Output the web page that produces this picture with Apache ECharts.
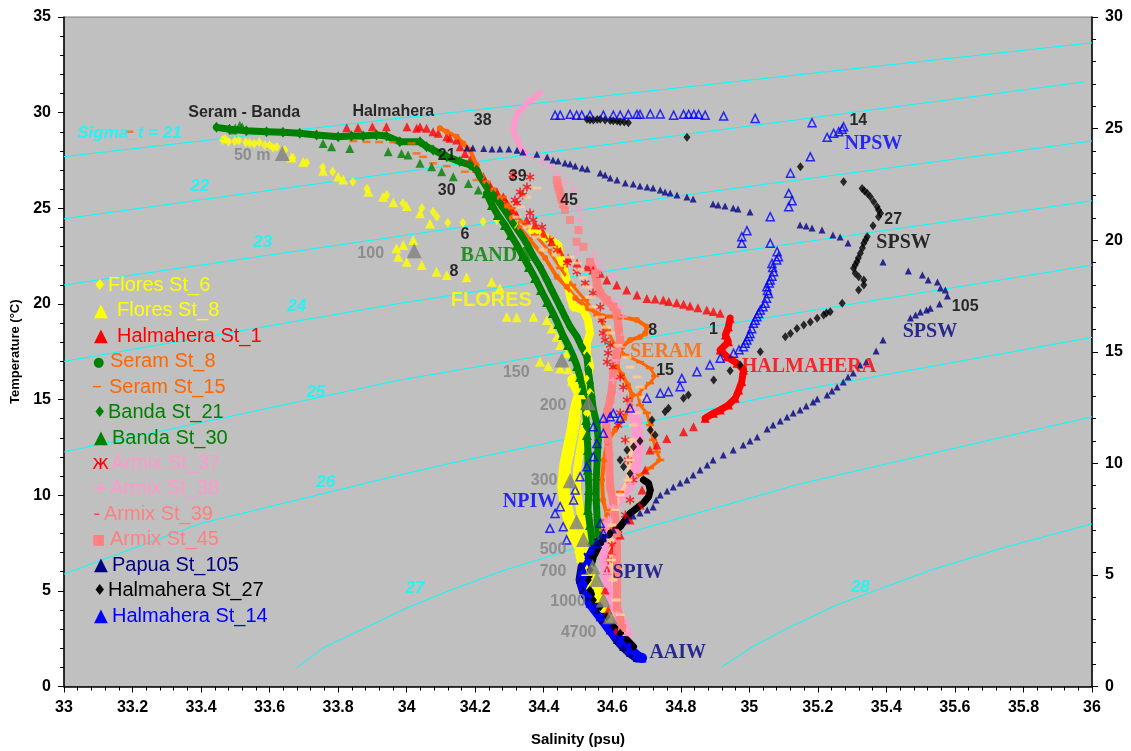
<!DOCTYPE html>
<html>
<head>
<meta charset="utf-8">
<script src="https://cdn.jsdelivr.net/npm/echarts@6/dist/echarts.min.js"></script>
<style>
html,body{margin:0;padding:0;background:#ffffff;}
#chart{width:1131px;height:751px;}
</style>
</head>
<body>
<div id="chart"></div>
<script>
// ---------- Isopycnals (sigma-t), [salinity, temperature] ----------
const sigma21 = [[33,27.7],[34,29.75],[35,31.7],[36,33.65]];
const sigma22 = [[33,24.45],[34.27,27.6],[35,29.3],[35.975,31.6]];
const sigma23 = [[33,20.99],[34.27,24.3],[34.86,25.81],[36,28.52]];
const sigma24 = [[33,17.0],[33.98,20.03],[34.86,22.47],[36,25.39]];
const sigma25 = [[33,12.26],[33.98,16.02],[34.86,18.72],[36,22.03]];
const sigma26 = [[33,5.88],[33.4,8.53],[33.98,11.06],[34.13,11.68],[35.15,15.5],[36,18.25]];
const sigma27 = [[33.68,1.0],[33.76,2.05],[34.0,4.1],[34.13,5.05],[34.28,6.05],[34.56,7.6],[35.15,10.6],[35.73,13.0],[36,14.1]];
const sigma28 = [[34.92,1.03],[35.01,2.08],[35.11,3.04],[35.255,4.26],[35.53,6.09],[35.75,7.3],[36,8.5]];

// ---------- Station profiles, [salinity (psu), temperature (°C)] ----------
const flores6Upper = [[33.463,28.57],[33.47,28.62],[33.48,28.48],[33.498,28.51],[33.51,28.55],[33.53,28.44],[33.542,28.41],[33.555,28.38],[33.57,28.45],[33.586,28.31],[33.60,28.30],[33.61,28.16],[33.621,28.20],[33.645,28.05],[33.668,27.64],[33.708,27.38],[33.755,27.14],[33.784,26.91],[33.843,26.39],[33.884,26.04],[33.942,25.69],[33.989,25.26],[34.044,25.00],[34.077,24.82],[34.088,24.56],[34.120,24.24],[34.164,24.24],[34.223,24.30],[34.263,24.39],[34.316,24.18]];
const flores6Deep = [[34.365,23.86],[34.409,23.44],[34.442,23.08],[34.448,22.47],[34.453,22.14],[34.467,21.25],[34.477,20.38],[34.486,19.85],[34.515,19.68],[34.529,19.16],[34.535,18.48],[34.526,17.96],[34.526,17.43],[34.535,16.72],[34.526,16.02],[34.535,15.34],[34.526,14.30],[34.515,13.25],[34.506,12.36],[34.497,11.32],[34.497,10.27],[34.506,9.23],[34.515,8.18],[34.527,7.13],[34.541,6.09],[34.559,5.04],[34.576,4.26],[34.594,3.74]];

const flores8Upper = [[33.664,27.66],[33.698,27.43],[33.756,26.96],[33.800,26.65],[33.815,26.51],[33.888,25.87],[33.931,25.60],[33.961,25.31],[34.000,25.12],[34.039,24.74],[34.068,24.21],[33.970,22.91],[33.990,23.08],[34.019,23.34],[34.000,22.21],[33.975,22.47],[34.044,22.03],[34.087,21.68],[34.117,21.51],[34.175,21.39],[34.248,21.16],[34.272,20.82],[34.292,19.33],[34.321,19.30],[34.370,19.33],[34.409,19.16],[34.423,18.72],[34.438,18.29],[34.448,17.85],[34.467,17.42],[34.389,16.98],[34.413,16.75],[34.448,16.63],[34.472,16.58]];
const flores8Deep = [[34.486,16.02],[34.506,15.33],[34.491,14.28],[34.486,13.58],[34.482,13.24],[34.472,12.36],[34.462,11.49],[34.457,10.44],[34.462,9.75],[34.472,8.88],[34.486,8.01],[34.506,7.31],[34.511,6.79],[34.526,6.09],[34.540,5.39],[34.555,4.69],[34.574,4.17],[34.589,3.65]];

const hal1Upper = [[33.825,29.21],[33.858,29.21],[33.900,29.26],[33.941,29.26],[34.001,29.26],[34.029,29.18],[34.039,29.26],[34.058,29.18],[34.077,29.00],[34.092,28.92],[34.117,28.74],[34.126,28.66],[34.146,28.57],[34.156,28.22],[34.170,27.87],[34.185,27.52],[34.204,27.09],[34.224,26.65],[34.243,26.21],[34.263,25.86],[34.282,25.60],[34.292,25.26],[34.306,24.91],[34.321,24.65],[34.350,24.39],[34.375,24.13],[34.399,23.69],[34.423,23.25],[34.448,22.73],[34.471,22.40],[34.497,22.14],[34.526,21.94],[34.544,21.77],[34.565,21.60],[34.584,21.25],[34.613,20.99],[34.642,20.73],[34.672,20.47],[34.701,20.29],[34.725,20.26],[34.749,20.20],[34.765,20.13],[34.788,20.06],[34.808,19.98],[34.827,19.89],[34.85,19.80],[34.876,19.68],[34.895,19.60],[34.915,19.51]];
const hal1Wiggle = [[34.944,19.25],[34.939,18.81],[34.930,18.38],[34.939,18.02],[34.915,17.59],[34.935,17.24],[34.964,16.90],[34.983,16.55],[34.978,15.94],[34.969,15.50],[34.959,15.07],[34.939,14.72],[34.915,14.46],[34.895,14.28],[34.871,14.02]];
const hal1Lower = [[34.837,13.58],[34.808,13.32],[34.759,12.97],[34.730,12.62],[34.710,12.36],[34.696,11.32],[34.687,10.27],[34.681,9.49],[34.652,8.70],[34.623,7.92],[34.599,7.13],[34.585,6.09],[34.579,5.04],[34.588,4.00],[34.608,2.95]];

const seram8 = [[34.097,29.19],[34.117,29.00],[34.146,28.74],[34.165,28.39],[34.185,28.05],[34.204,27.26],[34.219,26.65],[34.233,26.31],[34.253,25.95],[34.272,25.54],[34.293,25.12],[34.307,24.49],[34.331,23.97],[34.360,23.34],[34.404,22.40],[34.438,21.42],[34.467,20.90],[34.492,20.31],[34.529,19.78],[34.573,19.36],[34.623,19.33],[34.672,19.16],[34.701,18.81],[34.696,18.46],[34.681,18.27],[34.652,18.11],[34.629,17.75],[34.617,17.22],[34.614,16.70],[34.629,16.28],[34.646,15.76],[34.658,15.24],[34.652,14.71],[34.635,14.03],[34.608,13.41],[34.585,12.78],[34.576,11.84],[34.570,10.80],[34.573,9.75],[34.585,8.97],[34.599,8.18]];

const seram15Upper = [[33.191,29.00],[33.844,28.51],[33.883,28.47],[33.92,28.46],[33.961,28.45],[34.014,28.39],[34.029,27.87],[34.048,27.69],[34.077,27.35],[34.117,27.20],[34.170,26.91],[34.204,26.48],[34.233,26.39]];
const seram15Deep = [[34.281,25.59],[34.307,25.01],[34.337,24.28],[34.375,23.60],[34.413,22.82],[34.448,21.88],[34.483,20.99],[34.521,20.20],[34.556,19.41],[34.585,18.63],[34.608,17.85],[34.638,17.33],[34.681,16.96],[34.710,16.65],[34.725,16.23],[34.710,15.86],[34.690,15.60],[34.675,15.24],[34.681,14.71],[34.701,14.30],[34.710,13.67],[34.719,12.89],[34.730,12.26],[34.740,11.84],[34.710,11.42],[34.681,11.06],[34.652,10.64],[34.623,10.17],[34.602,9.75],[34.588,9.23],[34.579,8.70],[34.573,8.18]];

const banda21 = [[33.445,29.23],[33.483,29.13],[33.532,29.05],[33.591,29.00],[33.639,28.97],[33.688,28.92],[33.737,28.83],[33.800,28.74],[33.839,28.78],[33.873,28.78],[33.912,28.83],[33.941,28.78],[33.980,28.48],[34.039,28.48],[34.058,28.22],[34.077,28.05],[34.117,27.70],[34.155,27.44],[34.185,27.26],[34.204,27.00],[34.214,26.65],[34.233,26.13],[34.253,25.69],[34.272,25.26],[34.292,24.74],[34.311,24.21],[34.331,23.69],[34.350,23.17],[34.370,22.47],[34.389,21.94],[34.409,21.25],[34.423,20.73],[34.448,19.85],[34.462,19.33],[34.477,18.81],[34.497,18.29],[34.511,17.76],[34.526,17.24],[34.530,16.55],[34.535,15.85],[34.540,15.15],[34.545,14.45],[34.555,13.76],[34.559,12.89],[34.556,11.84],[34.553,10.80],[34.553,9.75],[34.556,8.70],[34.559,7.92]];

const banda30Upper = [[33.513,29.34],[33.52,29.25],[33.50,29.20],[33.493,29.09],[33.756,28.39],[33.781,28.22],[33.834,28.13],[33.946,27.96],[33.985,27.87],[34.004,27.78],[34.039,27.35],[34.073,27.17],[34.102,26.91],[34.136,26.65],[34.180,26.30],[34.209,25.95]];
const banda30Deep = [[34.233,25.78],[34.249,25.17],[34.266,24.65],[34.287,24.13],[34.304,23.60],[34.322,23.08],[34.339,22.50],[34.357,21.93],[34.375,21.35],[34.392,20.73],[34.410,20.10],[34.427,19.52],[34.442,18.95],[34.456,18.37],[34.471,17.85],[34.486,17.27],[34.497,16.75],[34.506,16.18],[34.515,15.50],[34.521,14.71],[34.524,13.93],[34.526,13.15],[34.529,12.36],[34.529,11.32],[34.532,10.27],[34.529,9.23],[34.535,8.44],[34.541,7.66]];

const armix37 = [[34.310,26.74],[34.360,26.63],[34.351,26.11],[34.331,25.85],[34.316,25.43],[34.339,25.69],[34.322,25.27],[34.360,24.75],[34.369,24.39],[34.395,24.02],[34.418,23.34],[34.439,22.82],[34.468,22.14],[34.497,21.67],[34.521,21.09],[34.544,20.57],[34.565,19.84],[34.570,19.16],[34.573,18.48],[34.579,18.11],[34.594,17.85],[34.588,17.43],[34.585,16.96],[34.602,16.70],[34.623,16.18],[34.632,15.65],[34.643,14.98],[34.623,14.30],[34.617,13.67],[34.638,12.89],[34.646,11.84],[34.661,10.80],[34.652,9.75],[34.638,8.97],[34.617,8.18],[34.599,7.40],[34.588,6.61]];

const armix38Top = [[34.389,31.02],[34.378,30.86],[34.366,30.70],[34.354,30.54],[34.343,30.33],[34.331,30.13],[34.322,29.87],[34.316,29.61],[34.313,29.35],[34.310,29.09],[34.313,28.88],[34.321,28.66],[34.325,28.46],[34.331,28.22],[34.339,28.05],[34.350,27.87]];
const armix38Mid = [[34.370,27.69],[34.399,27.43],[34.423,27.17],[34.438,26.74],[34.462,26.37],[34.486,25.95],[34.501,24.91],[34.506,24.39],[34.501,23.86],[34.496,22.73],[34.545,22.56],[34.555,22.21],[34.565,21.77],[34.603,21.42],[34.603,20.20],[34.623,19.85],[34.632,19.33],[34.628,18.29],[34.623,17.76],[34.613,17.07],[34.603,16.02],[34.623,15.33],[34.652,14.80]];
const armix38Deep = [[34.662,14.28],[34.672,13.58],[34.676,12.89],[34.672,12.10],[34.667,11.49],[34.652,10.62],[34.623,9.92],[34.603,9.40],[34.589,8.70],[34.584,8.01],[34.579,7.31],[34.579,6.61],[34.584,5.92],[34.589,5.22],[34.599,4.52],[34.613,3.83],[34.628,3.30],[34.637,2.95],[34.643,2.69]];

const armix39Upper = [[34.380,26.06],[34.351,25.59],[34.331,25.07],[34.322,24.54],[34.351,24.02],[34.380,23.50],[34.398,22.82],[34.436,22.56],[34.477,22.45],[34.497,22.14],[34.506,21.77],[34.515,21.35],[34.527,20.88],[34.535,20.36],[34.544,19.84],[34.565,19.31],[34.585,18.79],[34.594,18.48],[34.617,17.85],[34.643,17.22],[34.652,16.70],[34.672,16.18],[34.681,15.65],[34.690,15.13],[34.672,14.30],[34.661,13.67]];
const armix39Deep = [[34.658,12.89],[34.652,11.84],[34.646,10.80],[34.623,10.01],[34.608,9.23],[34.599,8.44],[34.594,7.66],[34.597,6.61],[34.602,5.57],[34.611,4.52],[34.623,3.74],[34.632,2.95]];

const armix45Upper = [[34.438,26.48],[34.44,26.30],[34.442,26.11],[34.445,25.95],[34.448,25.78],[34.45,25.60],[34.453,25.43],[34.457,25.20],[34.462,24.91],[34.477,24.39],[34.501,23.86],[34.496,23.25],[34.516,22.99]];
const armix45Deep = [[34.535,22.19],[34.550,21.60],[34.555,21.08],[34.565,20.55],[34.584,20.20],[34.603,19.85],[34.613,19.51],[34.618,18.81],[34.623,18.11],[34.611,17.33],[34.603,16.37],[34.599,15.50],[34.594,14.98],[34.585,14.35],[34.582,13.67],[34.588,12.89],[34.591,12.10],[34.591,11.47],[34.594,10.43],[34.602,9.75],[34.608,8.97],[34.613,8.02],[34.614,7.13],[34.614,6.25],[34.614,5.20],[34.614,4.16],[34.623,3.48],[34.629,3.06]];

const papua105Upper = [[34.176,28.15],[34.193,28.15],[34.225,28.12],[34.249,28.10],[34.272,28.10],[34.298,28.10],[34.322,28.04],[34.339,27.94],[34.380,27.83],[34.410,27.68],[34.427,27.52],[34.442,27.47],[34.462,27.37],[34.477,27.31],[34.492,27.21],[34.512,27.11],[34.527,27.06],[34.565,26.84],[34.579,26.74],[34.594,26.58],[34.614,26.48],[34.638,26.32],[34.661,26.27],[34.681,26.16],[34.702,26.11],[34.719,26.06],[34.740,25.95],[34.754,25.85],[34.769,25.80],[34.789,25.69],[34.818,25.59],[34.836,25.48],[34.894,25.22],[34.909,25.17],[34.929,25.12],[34.953,25.01],[34.967,24.96],[35.002,24.80],[35.148,24.12],[35.166,24.07],[35.183,23.97],[35.212,23.86],[35.244,23.60],[35.265,23.50],[35.288,23.18],[35.390,22.19],[35.464,21.72],[35.505,21.51],[35.522,21.25],[35.549,21.15],[35.558,20.83],[35.572,20.73],[35.578,20.41],[35.555,19.99],[35.528,19.78],[35.517,19.68],[35.499,19.58],[35.485,19.42],[35.470,19.26],[35.390,18.11],[35.370,17.54],[35.341,16.96],[35.323,16.81],[35.303,16.39],[35.288,16.18],[35.274,15.92],[35.256,15.66],[35.241,15.45],[35.227,15.24],[35.198,15.03],[35.186,14.87],[35.166,14.66],[35.148,14.45],[35.128,14.30],[35.110,14.09],[35.090,13.88],[35.069,13.67],[35.052,13.46],[35.023,13.04],[35.002,12.83],[34.982,12.62],[34.953,12.36],[34.924,12.10],[34.894,11.84],[34.877,11.58],[34.856,11.32],[34.836,11.06],[34.818,10.80],[34.798,10.64],[34.778,10.43],[34.760,10.22],[34.740,10.01],[34.728,9.75],[34.719,9.38],[34.702,9.23],[34.681,9.07],[34.661,8.91],[34.643,8.70],[34.623,8.44],[34.603,8.18],[34.588,7.97]];
const papua105Deep = [[34.573,7.82],[34.550,7.40],[34.530,6.87],[34.512,6.25],[34.506,5.57],[34.515,5.04],[34.527,4.68],[34.541,4.31],[34.556,4.00],[34.573,3.48],[34.594,2.95],[34.614,2.43],[34.632,2.07],[34.652,1.75],[34.672,1.49]];

const hal27Upper = [[34.526,29.65],[34.535,29.61],[34.545,29.61],[34.556,29.64],[34.565,29.65],[34.579,29.61],[34.594,29.59],[34.603,29.58],[34.614,29.56],[34.623,29.52],[34.635,29.51],[34.647,29.47],[34.818,28.71],[35.149,27.17],[35.275,26.39],[35.329,26.04],[35.336,25.90],[35.344,25.78],[35.353,25.60],[35.363,25.34],[35.373,25.08],[35.377,24.91],[35.383,24.74],[35.377,24.56],[35.361,24.09],[35.344,23.51],[35.339,23.34],[35.334,23.17],[35.330,22.92],[35.324,22.65],[35.318,22.40],[35.314,22.21],[35.309,22.03],[35.304,21.86],[35.309,21.60],[35.319,21.42],[35.334,21.25],[35.334,20.99],[35.319,20.73],[35.271,20.03],[35.236,19.59],[35.225,19.52],[35.217,19.42],[35.198,19.25],[35.178,19.05],[35.159,18.90],[35.139,18.72],[35.120,18.46],[35.105,18.29],[35.032,17.50],[34.973,16.81],[34.944,16.51],[34.896,16.02],[34.822,15.24],[34.808,15.07],[34.764,14.54],[34.754,14.36],[34.716,13.93],[34.711,13.41],[34.725,13.15],[34.681,12.83],[34.662,12.54],[34.643,12.36],[34.623,11.84],[34.633,11.49],[34.652,11.14]];
const hal27Deep = [[34.691,10.80],[34.706,10.62],[34.711,10.27],[34.706,9.92],[34.691,9.59],[34.672,9.33],[34.652,9.05],[34.623,8.35],[34.594,8.01],[34.565,7.49],[34.545,6.79],[34.535,6.09],[34.530,5.57],[34.535,5.04],[34.545,4.52],[34.565,4.17],[34.584,3.65],[34.603,3.13],[34.623,2.78],[34.643,2.43],[34.662,2.08]];

const hal14Upper = [[34.433,29.87],[34.448,29.87],[34.477,29.91],[34.496,29.87],[34.511,29.87],[34.535,29.87],[34.574,29.87],[34.603,29.87],[34.623,29.87],[34.647,29.91],[34.672,29.91],[34.681,29.91],[34.711,29.93],[34.740,29.93],[34.779,29.87],[34.808,29.91],[34.823,29.91],[34.838,29.91],[34.852,29.91],[34.871,29.87],[34.925,29.82],[35.017,29.70],[35.183,29.47],[35.227,28.71],[35.246,28.92],[35.261,29.00],[35.271,29.13],[35.275,29.26],[35.178,27.69],[35.120,26.83],[35.115,25.78],[35.125,25.39],[35.115,25.08],[35.061,24.56],[34.993,23.83],[34.978,23.51],[34.978,23.17],[35.061,23.17],[35.081,22.73],[35.085,22.47],[35.08,22.30],[35.066,22.12],[35.068,21.90],[35.071,21.68],[35.066,21.45],[35.061,21.25],[35.058,21.10],[35.051,20.90],[35.053,20.70],[35.056,20.55],[35.05,20.30],[35.046,20.03],[35.04,19.85],[35.032,19.68],[35.027,19.50],[35.022,19.33],[35.017,19.15],[35.012,18.99],[35.007,18.70],[35.002,18.46],[34.998,18.30],[34.993,18.11],[34.988,17.95],[34.983,17.76],[34.97,17.60],[34.954,17.42],[34.915,17.16],[34.885,16.81],[34.847,16.46],[34.803,16.11],[34.798,15.67],[34.764,15.41],[34.740,15.33],[34.701,15.07],[34.652,14.56],[34.623,14.02],[34.603,14.28],[34.574,14.02],[34.545,13.58],[34.594,14.10],[34.574,13.24],[34.555,12.71],[34.545,12.01],[34.526,11.49],[34.506,10.97],[34.492,10.27],[34.487,9.75],[34.448,9.40],[34.433,9.05],[34.418,8.27],[34.457,8.35],[34.467,7.66],[34.565,8.53],[34.574,8.01],[34.555,7.49]];
const hal14Deep = [[34.535,7.13],[34.526,6.61],[34.516,6.09],[34.511,5.48],[34.521,4.87],[34.535,4.35],[34.565,3.65],[34.594,2.95],[34.623,2.43],[34.652,1.91],[34.676,1.56],[34.687,1.49]];

// Reference depths along the profiles (m)
const depthMarkers = [[33.637,27.87],[34.022,22.78],[34.453,17.07],[34.530,14.84],[34.477,10.76],[34.496,8.61],[34.516,7.69],[34.543,6.26],[34.555,5.60],[34.574,4.52],[34.594,3.65]];

// ---------- Text annotations, [salinity, temperature, text] ----------
const depthLabels = [[33.549,27.78,'50 m'],[33.895,22.61,'100'],[34.320,16.39,'150'],[34.427,14.66,'200'],[34.401,10.74,'300'],[34.427,7.14,'500'],[34.427,5.99,'700'],[34.471,4.42,'1000'],[34.502,2.80,'4700']];
const stationLabels = [[34.222,29.56,'38'],[34.117,27.78,'21'],[34.117,25.92,'30'],[34.324,26.65,'39'],[34.474,25.40,'45'],[34.170,23.65,'6'],[34.138,21.67,'8'],[34.718,18.60,'8'],[34.754,16.49,'15'],[34.895,18.67,'1'],[35.318,29.58,'14'],[35.420,24.39,'27'],[35.630,19.85,'105']];
const areaLabels = [[33.526,30.02,'Seram - Banda'],[33.961,30.03,'Halmahera']];
const floresLabel = [[34.247,20.20,'FLORES']];
const waterMassLabels = [[34.261,22.52,'BANDA'],[34.757,17.49,'SERAM'],[35.174,16.72,'HALMAHERA'],[35.362,28.39,'NPSW'],[35.450,23.17,'SPSW'],[35.527,18.52,'SPSW'],[34.360,9.66,'NPIW'],[34.675,5.93,'SPIW'],[34.791,1.77,'AAIW']];
const waterMassColors = ['#008000','#FF6600','#FF0000','#0000FF','#000000','#000080','#0000FF','#000080','#000080'];
const sigmaLabels = [[33.191,28.94,'Sigma_t = 21'],[33.396,26.16,'22'],[33.580,23.24,'23'],[33.679,19.89,'24'],[33.735,15.39,'25'],[33.764,10.69,'26'],[34.024,5.15,'27'],[35.324,5.20,'28']];

// ---------- Legend entries ----------
const legendNames = ['Flores St_6','Flores St_8','Halmahera St_1','Seram St_8','Seram St_15','Banda St_21','Banda St_30','Armix St_37','Armix St_38','Armix St_39','Armix St_45','Papua St_105','Halmahera St_27','Halmahera St_14'];
const legendGlyphs = ['♦','▲','▲','●','–','♦','▲','ж','+','-','■','▲','♦','▲'];

// ---------- Styling ----------
const SANS = 'Liberation Sans';
const SERIF = 'Liberation Serif';
const C = {
  yellow:'#FFFF00', red:'#FF0000', orange:'#FF6600', green:'#008000', pink:'#FF99CC',
  salmon:'#FF8080', peach:'#FFCC99', navy:'#000080', black:'#000000', blue:'#0000FF', grey:'#808080', cyan:'#00FFFF'
};
const ASTERISK = 'path://M4.2,0h1.6v3.6l3.1,-1.8l0.8,1.4l-3.1,1.8l3.1,1.8l-0.8,1.4l-3.1,-1.8V10h-1.6V6.4l-3.1,1.8l-0.8,-1.4l3.1,-1.8l-3.1,-1.8l0.8,-1.4l3.1,1.8z';
const PLUS = 'path://M4,0h2v4h4v2h-4v4h-2v-4h-4v-2h4z';
const legendStyle = {
  'Flores St_6':    {icon:C.yellow, text:C.yellow, iconX:93, textX:108, iconSize:15},
  'Flores St_8':    {icon:C.yellow, text:C.yellow, iconX:94, textX:117, iconSize:18},
  'Halmahera St_1': {icon:C.red,    text:C.red,    iconX:94, textX:117, iconSize:18},
  'Seram St_8':     {icon:C.green,  text:C.orange, iconX:93, textX:110, iconSize:13},
  'Seram St_15':    {icon:C.orange, text:C.orange, iconX:92, textX:109, iconSize:20},
  'Banda St_21':    {icon:C.green,  text:C.green,  iconX:93, textX:108, iconSize:15},
  'Banda St_30':    {icon:C.green,  text:C.green,  iconX:94, textX:112, iconSize:18},
  'Armix St_37':    {icon:C.red,    text:C.pink,   iconX:92, textX:111, iconSize:19},
  'Armix St_38':    {icon:C.pink,   text:C.pink,   iconX:92, textX:110, iconSize:20},
  'Armix St_39':    {icon:'#FF5050',text:C.salmon, iconX:93, textX:104, iconSize:20},
  'Armix St_45':    {icon:C.salmon, text:C.salmon, iconX:92, textX:110, iconSize:14},
  'Papua St_105':   {icon:C.navy,   text:C.navy,   iconX:94, textX:112, iconSize:18},
  'Halmahera St_27':{icon:C.black,  text:C.black,  iconX:93, textX:108, iconSize:15},
  'Halmahera St_14':{icon:C.blue,   text:C.blue,   iconX:94, textX:112, iconSize:18}
};

function dots(name, data, symbol, size, itemStyle) {
  return {name, type:'scatter', data, symbol, symbolSize:size, itemStyle, silent:true, z:2};
}
function band(name, data, symbol, size, color, width, itemStyle) {
  return {name, type:'line', data, symbol, symbolSize:size, showSymbol:true, showAllSymbol:true,
    lineStyle:{color, width, cap:'round', join:'round'}, itemStyle: itemStyle || {color}, silent:true, z:2};
}
function iso(data) {
  return {type:'line', data, symbol:'none', lineStyle:{color:C.cyan, width:1}, silent:true, z:1};
}
function texts(rows, labelStyle, colors) {
  return {type:'scatter', symbolSize:1, itemStyle:{color:'rgba(0,0,0,0)'}, silent:true, z:6,
    data: rows.map((r, i) => {
      const item = {value:[r[0], r[1]], name:r[2]};
      if (colors) item.label = {color: colors[i]};
      return item;
    }),
    label: Object.assign({show:true, position:'inside', formatter: p => p.name}, labelStyle)};
}

const hollowBlue = {color:'rgba(0,0,0,0)', borderColor:C.blue, borderWidth:1.5};

const series = [
  iso(sigma21), iso(sigma22), iso(sigma23), iso(sigma24), iso(sigma25), iso(sigma26), iso(sigma27), iso(sigma28),

  dots('Flores St_6', flores6Upper, 'diamond', [7,10], {color:C.yellow}),
  band('Flores St_6', flores6Deep, 'diamond', [8,11], C.yellow, 8),
  dots('Flores St_8', flores8Upper, 'triangle', 10, {color:C.yellow}),
  band('Flores St_8', flores8Deep, 'triangle', 12, C.yellow, 12),

  dots('Halmahera St_1', hal1Upper, 'triangle', 9, {color:C.red}),
  band('Halmahera St_1', hal1Wiggle, 'triangle', 9, C.red, 7),
  dots('Halmahera St_1', hal1Lower, 'triangle', 9, {color:C.red}),

  band('Seram St_8', seram8, 'circle', 6, C.orange, 4),
  dots('Seram St_15', seram15Upper, 'rect', [8,2.5], {color:C.orange}),
  band('Seram St_15', seram15Deep, 'rect', [8,2.5], C.orange, 3),

  band('Banda St_21', banda21, 'diamond', [8,11], C.green, 7),
  dots('Banda St_30', banda30Upper, 'triangle', 9, {color:C.green}),
  band('Banda St_30', banda30Deep, 'triangle', 10, C.green, 7),

  dots('Armix St_37', armix37, ASTERISK, 9, {color:C.red}),
  band('Armix St_38', armix38Top, PLUS, 8, C.pink, 5),
  dots('Armix St_38', armix38Mid, PLUS, 9, {color:C.pink}),
  band('Armix St_38', armix38Deep, PLUS, 9, C.pink, 11),
  dots('Armix St_39', armix39Upper, 'rect', [9,3], {color:C.peach}),
  band('Armix St_39', armix39Deep, 'rect', [9,3], C.peach, 4),
  dots('Armix St_45', armix45Upper, 'rect', 8, {color:C.salmon}),
  band('Armix St_45', armix45Deep, 'rect', 8, C.salmon, 8),

  dots('Papua St_105', papua105Upper, 'triangle', 7, {color:C.navy}),
  band('Papua St_105', papua105Deep, 'triangle', 8, C.navy, 9),
  dots('Halmahera St_27', hal27Upper, 'diamond', [7,9], {color:C.black}),
  band('Halmahera St_27', hal27Deep, 'diamond', [7,9], C.black, 7),
  dots('Halmahera St_14', hal14Upper, 'triangle', 8, hollowBlue),
  band('Halmahera St_14', hal14Deep, 'triangle', 9, C.blue, 10),

  Object.assign(dots('Depth', depthMarkers, 'triangle', 15, {color:C.grey}), {z:4}),

  texts(depthLabels, {color:C.grey, fontFamily:SANS, fontWeight:'bold', fontSize:16}),
  texts(stationLabels, {color:C.black, fontFamily:SANS, fontWeight:'bold', fontSize:16}),
  texts(areaLabels, {color:C.black, fontFamily:SANS, fontWeight:'bold', fontSize:16}),
  texts(floresLabel, {color:C.yellow, fontFamily:SANS, fontWeight:'bold', fontSize:20}),
  texts(waterMassLabels, {fontFamily:SERIF, fontWeight:'bold', fontSize:20}, waterMassColors),
  texts(sigmaLabels, {color:C.cyan, fontFamily:SANS, fontWeight:'bold', fontStyle:'italic', fontSize:17})
];

// Legend drawn as text rows at the left of the plot
const legendTop = 287.3, legendStep = 25.46;
const graphic = [];
legendNames.forEach((name, i) => {
  const st = legendStyle[name];
  const y = legendTop + i * legendStep;
  graphic.push({type:'text', left:st.iconX, top:y - st.iconSize * 0.6, z:20, silent:true,
    style:{text:legendGlyphs[i], fill:st.icon, font:'normal ' + st.iconSize + 'px "DejaVu Sans"'}});
  graphic.push({type:'text', left:st.textX, top:y - 12, z:20, silent:true,
    style:{text:name, fill:st.text, font:'normal 20px "' + SANS + '"'}});
});

const axisText = {fontFamily:SANS, fontWeight:'bold', fontSize:16, color:'#000'};

const option = {
  animation:false,
  backgroundColor:'#ffffff',
  textStyle:{fontFamily:SANS},
  grid:{left:64, right:39, top:17, bottom:64.5, show:true, backgroundColor:'#C0C0C0', borderColor:'#808080', borderWidth:1,
        containLabel:false, outerBoundsMode:'none'},
  xAxis:{
    type:'value', min:33, max:36, interval:0.2,
    axisLine:{show:true, onZero:false, lineStyle:{color:'#000', width:1.5}},
    axisTick:{show:true, length:6, lineStyle:{color:'#000', width:1}},
    minorTick:{show:true, splitNumber:5, length:4, lineStyle:{color:'#000', width:1}},
    splitLine:{show:false},
    axisLabel:Object.assign({margin:13}, axisText),
    name:'Salinity (psu)', nameLocation:'middle', nameGap:46,
    nameTextStyle:{fontFamily:SANS, fontWeight:'bold', fontSize:15, color:'#000'}
  },
  yAxis:[{
    type:'value', min:0, max:35, interval:5, position:'left',
    axisLine:{show:true, onZero:false, lineStyle:{color:'#000', width:1.5}},
    axisTick:{show:true, length:6, lineStyle:{color:'#000', width:1}},
    minorTick:{show:true, splitNumber:5, length:4, lineStyle:{color:'#000', width:1}},
    splitLine:{show:false},
    axisLabel:Object.assign({margin:13}, axisText),
    name:'Temperature (°C)', nameLocation:'middle', nameGap:41, nameRotate:90,
    nameTextStyle:{fontFamily:SANS, fontWeight:'bold', fontSize:13, color:'#000'}
  },{
    type:'value', min:0, max:30, interval:5, position:'right',
    axisLine:{show:true, onZero:false, lineStyle:{color:'#000', width:1.5}},
    axisTick:{show:true, length:6, lineStyle:{color:'#000', width:1}},
    minorTick:{show:true, splitNumber:5, length:4, lineStyle:{color:'#000', width:1}},
    splitLine:{show:false},
    axisLabel:Object.assign({margin:13}, axisText)
  }],
  series,
  graphic
};

const chart = echarts.init(document.getElementById('chart'), null, {renderer:'canvas'});
chart.setOption(option);
</script>
</body>
</html>
